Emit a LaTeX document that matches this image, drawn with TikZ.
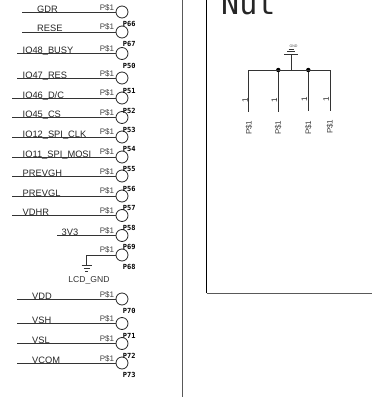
\documentclass[tikz,border=0pt]{standalone}
\usepackage{fontspec}
\setmainfont{Liberation Sans}
\newfontfamily\monofont{DejaVu Sans Mono}
\usetikzlibrary{calc}
\tikzset{
  wire/.style={line width=1pt,black!80},
  frame/.style={line width=1pt,black!65},
  pad/.style={circle,draw,line width=0.8pt,black!85,minimum size=12pt,inner sep=0pt},
  net/.style={anchor=base west,inner sep=0pt,yshift=-0.9pt,text=black!85,font=\fontsize{9.3}{10}\selectfont},
  pin/.style={anchor=base west,inner sep=0pt,text=black!75,font=\fontsize{8}{9}\selectfont},
  padno/.style={inner sep=0pt,font=\monofont\bfseries\fontsize{7}{8}\selectfont},
  dot/.style={circle,fill=black,inner sep=0pt,minimum size=4.4pt},
  vpin/.style={rotate=90,inner sep=0pt,text=black!75,font=\fontsize{8}{9}\selectfont},
  vnum/.style={rotate=90,inner sep=0pt,text=black!85,font=\fontsize{8}{9}\selectfont}
}
\begin{document}
\begin{tikzpicture}[x=1pt,y=-1pt]
\useasboundingbox (0,0) rectangle (372,397);
% sheet frame
\coordinate (ftl) at (182.5,0);
\coordinate (fbl) at (182.5,397);
\coordinate (btl) at (206.5,0);
\coordinate (bbl) at (206.5,293);
\coordinate (bbr) at (372,293);
\draw[frame] (ftl) -- (fbl);
\draw[line width=0.9pt] (btl) -- (bbl);
\draw[frame] (bbl) -- (bbr);
% left connector
\node[pad] (pgdr) at (122,12) {};
\coordinate (wgdr) at (22,12);
\draw[wire] (wgdr) -- (pgdr);
\node[net] (ngdr) at (37,11.5) {GDR};
\node[pin] (sgdr) at (99.7,10) {P\$1};

\node[pad] (prese) at (122,32) {};
\coordinate (wrese) at (22,32);
\draw[wire] (wrese) -- (prese);
\node[net] (nrese) at (37,31) {RESE};
\node[pin] (srese) at (99.7,29) {P\$1};
\node[padno] (lrese) at (129.3,23.5) {P66};

\node[pad] (pbusy) at (122,53.5) {};
\coordinate (wbusy) at (17,53.5);
\draw[wire] (wbusy) -- (pbusy);
\node[net] (nbusy) at (22.5,53) {IO48\_BUSY};
\node[pin] (sbusy) at (99.7,51) {P\$1};
\node[padno] (lbusy) at (129.3,43.5) {P67};

\node[pad] (pres) at (122,78) {};
\coordinate (wres) at (17,78);
\draw[wire] (wres) -- (pres);
\node[net] (nres) at (22.5,77.5) {IO47\_RES};
\node[pin] (sres) at (99.7,76) {P\$1};
\node[padno] (lres) at (129.3,65.7) {P50};

\node[pad] (pdc) at (122,98) {};
\coordinate (wdc) at (12,98);
\draw[wire] (wdc) -- (pdc);
\node[net] (ndc) at (22.5,97.5) {IO46\_D/C};
\node[pin] (sdc) at (99.7,95.5) {P\$1};
\node[padno] (ldc) at (129.3,90.7) {P51};

\node[pad] (pcs) at (122,117.5) {};
\coordinate (wcs) at (12,117.5);
\draw[wire] (wcs) -- (pcs);
\node[net] (ncs) at (22.5,117) {IO45\_CS};
\node[pin] (scs) at (99.7,115) {P\$1};
\node[padno] (lcs) at (129.3,110.7) {P52};

\node[pad] (pclk) at (122,137) {};
\coordinate (wclk) at (12,137);
\draw[wire] (wclk) -- (pclk);
\node[net] (nclk) at (22.5,136.5) {IO12\_SPI\_CLK};
\node[pin] (sclk) at (99.7,134.5) {P\$1};
\node[padno] (lclk) at (129.3,129.5) {P53};

\node[pad] (pmosi) at (122,157) {};
\coordinate (wmosi) at (12,157);
\draw[wire] (wmosi) -- (pmosi);
\node[net] (nmosi) at (22.5,156.5) {IO11\_SPI\_MOSI};
\node[pin] (smosi) at (99.7,154.5) {P\$1};
\node[padno] (lmosi) at (129.3,149.3) {P54};

\node[pad] (pgh) at (122,176) {};
\coordinate (wgh) at (12,176);
\draw[wire] (wgh) -- (pgh);
\node[net] (ngh) at (22.5,175.5) {PREVGH};
\node[pin] (sgh) at (99.7,174) {P\$1};
\node[padno] (lgh) at (129.3,169) {P55};

\node[pad] (pgl) at (122,196) {};
\coordinate (wgl) at (12,196);
\draw[wire] (wgl) -- (pgl);
\node[net] (ngl) at (22.5,195.5) {PREVGL};
\node[pin] (sgl) at (99.7,193.5) {P\$1};
\node[padno] (lgl) at (129.3,188.7) {P56};

\node[pad] (pvdhr) at (122,215.5) {};
\coordinate (wvdhr) at (12,215.5);
\draw[wire] (wvdhr) -- (pvdhr);
\node[net] (nvdhr) at (22.5,215) {VDHR};
\node[pin] (svdhr) at (99.7,213) {P\$1};
\node[padno] (lvdhr) at (129.3,208) {P57};

\node[pad] (p3v) at (122,235.5) {};
\coordinate (w3v) at (57,235.5);
\draw[wire] (w3v) -- (p3v);
\node[net] (n3v) at (61.5,235) {3V3};
\node[pin] (s3v) at (99.7,233) {P\$1};
\node[padno] (l3v) at (129.3,227.7) {P58};

\node[pad] (plcd) at (122,255) {};
\coordinate (wlcd) at (86,255);
\coordinate (glcd) at (86,265.5);
\draw[wire] (plcd) -- (wlcd) -- (glcd);
\coordinate (g1a) at (81.5,265.5);
\coordinate (g1b) at (91.5,265.5);
\coordinate (g2a) at (83.5,268.5);
\coordinate (g2b) at (89.5,268.5);
\coordinate (g3a) at (85,271.5);
\coordinate (g3b) at (88,271.5);
\draw[wire] (g1a) -- (g1b);
\draw[wire] (g2a) -- (g2b);
\draw[wire] (g3a) -- (g3b);
\node[inner sep=0pt,text=black!80,font=\fontsize{8.6}{10}\selectfont] (nlcd) at (89,280.7) {LCD\_GND};
\node[pin] (slcd) at (99.7,252) {P\$1};
\node[padno] (llcd) at (129.3,247.3) {P69};
\node[padno] (lgnd) at (129.3,267.3) {P68};

\node[pad] (pvdd) at (122,299) {};
\coordinate (wvdd) at (17,299);
\draw[wire] (wvdd) -- (pvdd);
\node[net] (nvdd) at (32,298.5) {VDD};
\node[pin] (svdd) at (99.7,297) {P\$1};
\node[padno] (lvdd) at (129.3,311) {P70};

\node[pad] (pvsh) at (122,323.5) {};
\coordinate (wvsh) at (17,323.5);
\draw[wire] (wvsh) -- (pvsh);
\node[net] (nvsh) at (32,323) {VSH};
\node[pin] (svsh) at (99.7,321) {P\$1};
\node[padno] (lvsh) at (129.3,336) {P71};

\node[pad] (pvsl) at (122,343.5) {};
\coordinate (wvsl) at (17,343.5);
\draw[wire] (wvsl) -- (pvsl);
\node[net] (nvsl) at (32,343) {VSL};
\node[pin] (svsl) at (99.7,341) {P\$1};
\node[padno] (lvsl) at (129.3,355.7) {P72};

\node[pad] (pcom) at (122,363) {};
\coordinate (wcom) at (17,363);
\draw[wire] (wcom) -- (pcom);
\node[net] (ncom) at (32,362.5) {VCOM};
\node[pin] (scom) at (99.7,361) {P\$1};
\node[padno] (lcom) at (129.3,375) {P73};
% nut block
\node[anchor=base west,inner sep=0pt,text=black!85,font=\monofont\fontsize{30}{32}\selectfont] (nut) at (221,14) {Nut};
\coordinate (a) at (248.7,70);
\coordinate (b) at (330,70);
\coordinate (a1) at (248.7,111.7);
\coordinate (b1) at (330,110.7);
\node[dot] (d1) at (278.3,70) {};
\node[dot] (d2) at (308.3,70) {};
\coordinate (c1) at (278.3,111.7);
\coordinate (c2) at (308.3,111);
\coordinate (gj) at (291,70);
\coordinate (gt) at (291,54);
\draw[wire] (a1) -- (a) -- (b) -- (b1);
\draw[wire] (d1) -- (c1);
\draw[wire] (d2) -- (c2);
\draw[wire] (gj) -- (gt);
\coordinate (t1a) at (284,54);
\coordinate (t1b) at (298,54);
\coordinate (t2a) at (287,51.5);
\coordinate (t2b) at (295,51.5);
\coordinate (t3a) at (288.5,49.5);
\coordinate (t3b) at (293.5,49.5);
\draw[wire] (t1a) -- (t1b);
\draw[line width=0.7pt,black!80] (t2a) -- (t2b);
\draw[line width=0.7pt,black!80] (t3a) -- (t3b);
\node[inner sep=0pt,text=black!70,font=\fontsize{3.6}{4}\selectfont] (ngnd) at (293.5,46.7) {GND};
\node[vnum] (u1) at (245,100.7) {1};
\node[vnum] (u2) at (274.3,100.7) {1};
\node[vnum] (u3) at (304.3,99.3) {1};
\node[vnum] (u4) at (326,99.3) {1};
\node[vpin] (v1) at (249,127.7) {P\$1};
\node[vpin] (v2) at (278.3,127.7) {P\$1};
\node[vpin] (v3) at (308.5,127.7) {P\$1};
\node[vpin] (v4) at (330,126.7) {P\$1};
\end{tikzpicture}
\end{document}
